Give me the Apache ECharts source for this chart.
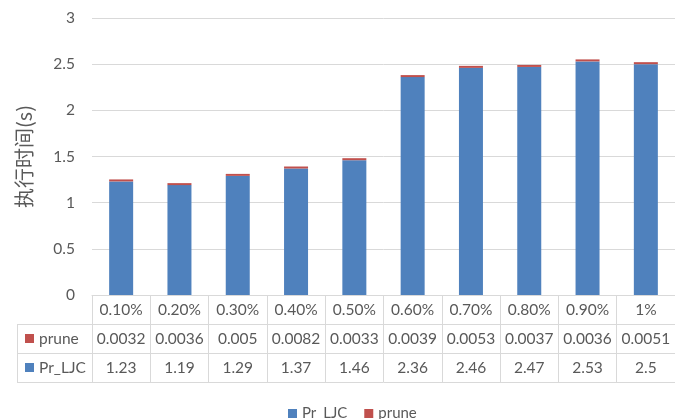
<!DOCTYPE html>
<html>
<head>
<meta charset="utf-8">
<style>
  html, body { margin: 0; padding: 0; background: #ffffff; }
  #chart { width: 675px; height: 419px; }
</style>
<script src="https://cdn.jsdelivr.net/npm/echarts@6/dist/echarts.min.js"></script>
</head>
<body>
<div id="chart"></div>
<script>
// Sampling ratios and measured execution times (seconds)
const categories = ['0.10%', '0.20%', '0.30%', '0.40%', '0.50%', '0.60%', '0.70%', '0.80%', '0.90%', '1%'];
const pruneTimes = [0.0032, 0.0036, 0.005, 0.0082, 0.0033, 0.0039, 0.0053, 0.0037, 0.0036, 0.0051];
const prLjcTimes = [1.23, 1.19, 1.29, 1.37, 1.46, 2.36, 2.46, 2.47, 2.53, 2.5];
const yTicks = { min: 0, max: 3, interval: 0.5 };

const BLUE = '#4f81bd';
const RED = '#c0504d';
const TEXT = '#595959';
const RULE = '#d9d9d9';
const FONT = 'Lato, "Noto Sans", sans-serif';

// Plot area and data-table geometry
const gridLeft = 92, gridTop = 18, gridBottom = 124, gridWidth = 590;
const rowH = 29;
const axisY = 419 - gridBottom;
const tableLeft = 17;

const chart = echarts.init(document.getElementById('chart'));

// One category axis per table row; the ticks form the cell borders
function tableAxis(labels, offset, showLabels) {
  return {
    type: 'category',
    position: 'bottom',
    offset: offset,
    data: labels,
    axisLine: { show: true, lineStyle: { color: RULE, width: 1 } },
    axisTick: { show: showLabels, interval: 0, length: rowH, lineStyle: { color: RULE } },
    axisLabel: { show: showLabels, interval: 0, margin: 7, color: TEXT, fontSize: 15.5, fontFamily: FONT },
    splitLine: { show: false }
  };
}

function rowHeader(label, color, rowIndex) {
  const y = axisY + rowH * rowIndex;
  return {
    type: 'group',
    children: [
      { type: 'rect', shape: { x: 25, y: y + 10, width: 9, height: 9 }, style: { fill: color } },
      { type: 'text', x: 39, y: y + rowH / 2 + 0.5,
        style: { text: label, fill: TEXT, font: '15.5px ' + FONT, textVerticalAlign: 'middle', verticalAlign: 'middle' } }
    ]
  };
}

const tableRight = gridLeft + 0.5;
const frame = [
  { type: 'line', shape: { x1: tableLeft, y1: axisY + rowH + 0.5, x2: tableRight, y2: axisY + rowH + 0.5 }, style: { stroke: RULE, lineWidth: 1 } },
  { type: 'line', shape: { x1: tableLeft, y1: axisY + rowH * 2 + 0.5, x2: tableRight, y2: axisY + rowH * 2 + 0.5 }, style: { stroke: RULE, lineWidth: 1 } },
  { type: 'line', shape: { x1: tableLeft, y1: axisY + rowH * 3 + 0.5, x2: tableRight, y2: axisY + rowH * 3 + 0.5 }, style: { stroke: RULE, lineWidth: 1 } },
  { type: 'line', shape: { x1: tableLeft + 0.5, y1: axisY + rowH, x2: tableLeft + 0.5, y2: axisY + rowH * 3 + 1 }, style: { stroke: RULE, lineWidth: 1 } }
];

chart.setOption({
  animation: false,
  backgroundColor: '#ffffff',
  textStyle: { fontFamily: FONT },
  grid: { left: gridLeft, top: gridTop, bottom: gridBottom, width: gridWidth },
  legend: {
    left: 283,
    top: 401,
    icon: 'rect',
    itemWidth: 9,
    itemHeight: 9,
    itemGap: 17,
    textStyle: { color: TEXT, fontSize: 15, fontFamily: FONT },
    data: ['Pr_LJC', 'prune']
  },
  xAxis: [
    tableAxis(categories, 0, true),
    tableAxis(pruneTimes.map(String), rowH, true),
    tableAxis(prLjcTimes.map(String), rowH * 2, true),
    tableAxis(categories.map(() => ''), rowH * 3, false)
  ],
  yAxis: {
    type: 'value',
    min: yTicks.min,
    max: yTicks.max,
    interval: yTicks.interval,
    name: '执行时间(s)',
    nameLocation: 'middle',
    nameGap: 58,
    nameRotate: 90,
    nameTextStyle: { color: TEXT, fontSize: 20, fontFamily: '"Noto Sans CJK SC", ' + FONT },
    axisLine: { show: false },
    axisTick: { show: false },
    axisLabel: { color: TEXT, fontSize: 15.5, fontFamily: FONT, margin: 17 },
    splitLine: { lineStyle: { color: RULE, width: 1 } }
  },
  series: [
    {
      name: 'Pr_LJC',
      type: 'bar',
      stack: 'time',
      xAxisIndex: 0,
      data: prLjcTimes,
      barWidth: 24,
      itemStyle: { color: BLUE }
    },
    {
      name: 'prune',
      type: 'bar',
      stack: 'time',
      xAxisIndex: 0,
      data: pruneTimes,
      barWidth: 24,
      barMinHeight: 2,
      itemStyle: { color: RED }
    }
  ],
  graphic: frame.concat([
    rowHeader('prune', RED, 1),
    rowHeader('Pr_LJC', BLUE, 2)
  ])
});
</script>
</body>
</html>
